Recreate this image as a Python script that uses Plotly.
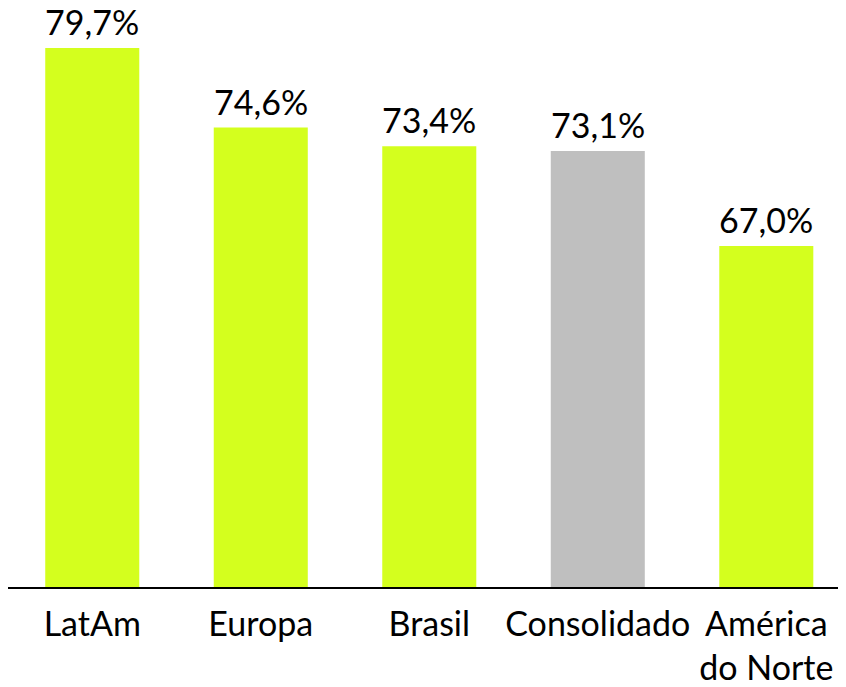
import plotly.graph_objects as go

categories = ["LatAm", "Europa", "Brasil", "Consolidado", "América<br>do Norte"]
values = [79.7, 74.6, 73.4, 73.1, 67.0]
labels = ["79,7%", "74,6%", "73,4%", "73,1%", "67,0%"]
colors = ["#D4FF1E", "#D4FF1E", "#D4FF1E", "#BFBFBF", "#D4FF1E"]

FONT = "Lato, Open Sans, sans-serif"

fig = go.Figure(go.Bar(
    x=categories, y=values,
    marker=dict(color=colors, line=dict(width=0)),
    cliponaxis=False,
))

for c, v, t in zip(categories, values, labels):
    fig.add_annotation(
        x=c, y=v, text=t, showarrow=False, yanchor="bottom", yshift=4,
        font=dict(family=FONT, size=34, color="#000000"),
    )

fig.update_layout(
    width=838, height=679,
    margin=dict(l=0, r=0, t=0, b=100),
    plot_bgcolor="white", paper_bgcolor="white",
    bargap=0.442,
    showlegend=False,
    font=dict(family=FONT, size=34, color="#000000"),
)
fig.update_xaxes(
    range=[-0.5, 4.473],
    showline=True, linecolor="#000000", linewidth=2,
    ticks="", tickfont=dict(family=FONT, size=34, color="#000000"),
    ticklabelstandoff=6,
    showgrid=False,
)
fig.update_yaxes(range=[45.13, 82.27], visible=False, showgrid=False)

fig.write_html("out.html")
